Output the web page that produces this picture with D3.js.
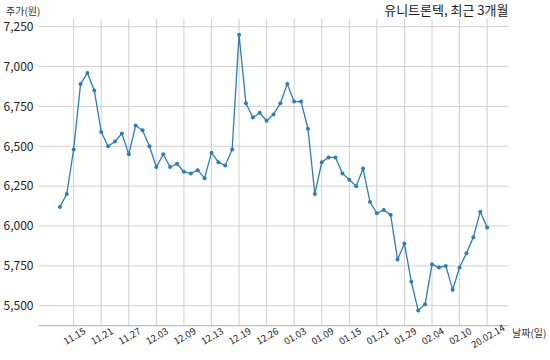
<!DOCTYPE html>
<html>
<head>
<meta charset="utf-8">
<script src="https://cdn.jsdelivr.net/npm/d3@7"></script>
<style>
  body { margin: 0; background: #fff; }
  svg text { font-family: "Noto Sans CJK KR", "Noto Sans", sans-serif; }
</style>
</head>
<body>
<script>
// trading days, 2019-11-13 .. 2020-02-14
const dates = [
  '11.13', '11.14', '11.15', '11.18', '11.19', '11.20', '11.21', '11.22', '11.25', '11.26',
  '11.27', '11.28', '11.29', '12.02', '12.03', '12.04', '12.05', '12.06', '12.09', '12.10',
  '12.11', '12.12', '12.13', '12.16', '12.17', '12.18', '12.19', '12.20', '12.23', '12.24',
  '12.26', '12.27', '12.30', '01.02', '01.03', '01.06', '01.07', '01.08', '01.09', '01.10',
  '01.13', '01.14', '01.15', '01.16', '01.17', '01.20', '01.21', '01.22', '01.23', '01.28',
  '01.29', '01.30', '01.31', '02.03', '02.04', '02.05', '02.06', '02.07', '02.10', '02.11',
  '02.12', '02.13', '02.14',
];

// closing price (won)
const prices = [
  6120, 6200, 6480, 6890, 6960, 6850, 6590, 6500, 6530, 6580,
  6450, 6630, 6600, 6500, 6370, 6450, 6370, 6390, 6340, 6330,
  6350, 6300, 6460, 6400, 6380, 6480, 7200, 6770, 6680, 6710,
  6660, 6700, 6770, 6890, 6780, 6780, 6610, 6200, 6400, 6430,
  6430, 6330, 6290, 6250, 6360, 6150, 6080, 6100, 6070, 5790,
  5890, 5650, 5470, 5510, 5760, 5740, 5750, 5600, 5740, 5830,
  5930, 6090, 5990,
];

// x ticks: every 4th trading day, last one with year
const tickIndex = [2, 6, 10, 14, 18, 22, 26, 30, 34, 38, 42, 46, 50, 54, 58, 62];
const tickLabels = [
  '11.15', '11.21', '11.27', '12.03', '12.09', '12.13', '12.19', '12.26',
  '01.03', '01.09', '01.15', '01.21', '01.29', '02.04', '02.10', '20.02.14',
];
const yTicks = [5500, 5750, 6000, 6250, 6500, 6750, 7000, 7250];

const title = '유니트론텍, 최근 3개월';
const yLabel = '주가(원)';
const xLabel = '날짜(일)';

const width = 550;
const height = 360;
const margin = { left: 38.5, right: 508.5, top: 19, bottom: 325.7 };

const svg = d3.select('body')
  .append('svg')
  .attr('width', width)
  .attr('height', height);

const x = d3.scaleLinear()
  .domain([-3.1, dates.length - 1 + 3.1])
  .range([margin.left, margin.right]);

const y = d3.scaleLinear()
  .domain([5375, 7298])
  .range([margin.bottom, margin.top]);

// grid
svg.append('g')
  .selectAll('line')
  .data(yTicks)
  .join('line')
  .attr('x1', margin.left)
  .attr('x2', margin.right)
  .attr('y1', (d) => y(d))
  .attr('y2', (d) => y(d))
  .attr('stroke', '#cfcfcf')
  .attr('stroke-width', 1);

svg.append('g')
  .selectAll('line')
  .data(tickIndex)
  .join('line')
  .attr('x1', (d) => x(d))
  .attr('x2', (d) => x(d))
  .attr('y1', margin.top)
  .attr('y2', margin.bottom)
  .attr('stroke', '#cfcfcf')
  .attr('stroke-width', 1);

// bottom axis
const xAxis = d3.axisBottom(x)
  .tickValues(tickIndex)
  .tickSize(0)
  .tickPadding(0)
  .tickFormat((d, i) => tickLabels[i]);

const gx = svg.append('g')
  .attr('transform', `translate(0,${margin.bottom})`)
  .call(xAxis);
gx.select('.domain')
  .attr('stroke', '#b0b0b0')
  .attr('d', `M${margin.left},0H${margin.right}`);
gx.selectAll('.tick text')
  .attr('y', 0)
  .attr('dy', 0)
  .attr('transform', 'translate(0,10) rotate(-30)')
  .attr('text-anchor', 'middle')
  .attr('dominant-baseline', 'central')
  .attr('font-size', 9.5)
  .attr('fill', '#222');

// left axis labels only
const yAxis = d3.axisLeft(y)
  .tickValues(yTicks)
  .tickSize(0)
  .tickPadding(5)
  .tickFormat(d3.format(','));

const gy = svg.append('g')
  .attr('transform', `translate(${margin.left},0)`)
  .call(yAxis);
gy.select('.domain').remove();
gy.selectAll('.tick text')
  .attr('font-size', 12)
  .attr('fill', '#222');

// price line
const line = d3.line()
  .x((d, i) => x(i))
  .y((d) => y(d));

svg.append('path')
  .datum(prices)
  .attr('d', line)
  .attr('fill', 'none')
  .attr('stroke', '#2f7db5')
  .attr('stroke-width', 1.3);

svg.append('g')
  .selectAll('circle')
  .data(prices)
  .join('circle')
  .attr('cx', (d, i) => x(i))
  .attr('cy', (d) => y(d))
  .attr('r', 2)
  .attr('fill', '#2f7db5');

// texts
svg.append('text')
  .attr('x', margin.right)
  .attr('y', 15)
  .attr('text-anchor', 'end')
  .attr('font-size', 13)
  .attr('fill', '#222')
  .text(title);

svg.append('text')
  .attr('x', 6)
  .attr('y', 15)
  .attr('font-size', 10)
  .attr('fill', '#333')
  .text(yLabel);

svg.append('text')
  .attr('x', 512)
  .attr('y', 337)
  .attr('font-size', 10)
  .attr('fill', '#333')
  .text(xLabel);
</script>
</body>
</html>
